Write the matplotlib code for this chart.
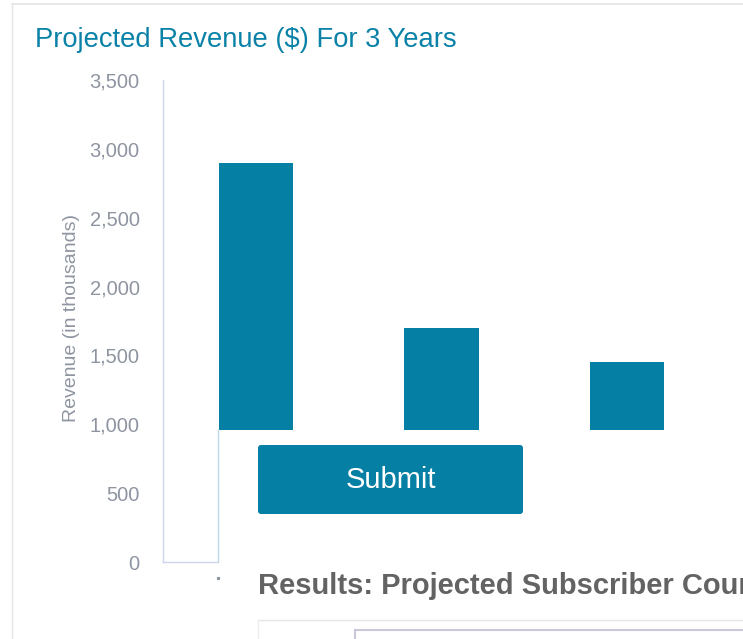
import matplotlib.pyplot as plt
from matplotlib.patches import Rectangle, FancyBboxPatch
from matplotlib.ticker import FuncFormatter

# data (revenue in thousands)
years = ["Year 1", "Year 2", "Year 3"]
revenue = [2900, 1700, 1450]
yticks = [0, 500, 1000, 1500, 2000, 2500, 3000, 3500]

W, H = 743, 639
teal = "#0580a4"
axis_col = "#ccd6eb"
label_col = "#8e95a1"

plt.rcParams['font.family'] = ['Liberation Sans', 'DejaVu Sans']

fig = plt.figure(figsize=(W / 100, H / 100), dpi=100)

# main chart axes, placed in pixel terms
x0, x1, ytop, ybot = 163.25, 719.75, 80, 562
ax = fig.add_axes([x0 / W, (H - ybot) / H, (x1 - x0) / W, (ybot - ytop) / H])
ax.bar(range(len(years)), revenue, width=0.40, color=teal, zorder=3)
ax.set_xlim(-0.5, len(years) - 0.5)
ax.set_ylim(0, 3500)
ax.set_yticks(yticks)
ax.yaxis.set_major_formatter(FuncFormatter(lambda v, p: f"{int(v):,}"))
ax.set_xticks(range(len(years)))
ax.set_xticklabels([])
ax.tick_params(axis='y', length=0, pad=17, labelsize=14.5, labelcolor=label_col)
ax.tick_params(axis='x', length=0)
for s in ['top', 'right']:
    ax.spines[s].set_visible(False)
for s in ['left', 'bottom']:
    ax.spines[s].set_color(axis_col)
    ax.spines[s].set_linewidth(1)

fig.text(72 / W, 1 - 318 / H, "Revenue (in thousands)", rotation=90,
         ha='center', va='center', fontsize=14, color=label_col)

fig.text(35 / W, 1 - 47 / H, "Projected Revenue ($) For 3 Years",
         ha='left', va='baseline', fontsize=19.7, color="#0a82a8")

# page overlay drawn in pixel coordinates on top of the chart
ov = fig.add_axes([0, 0, 1, 1], zorder=5)
ov.set_xlim(0, W)
ov.set_ylim(H, 0)
ov.axis('off')
ov.patch.set_alpha(0)

# card border
ov.plot([12, 12], [4, H], color="#e4e4e4", lw=1)
ov.plot([12, W], [4, 4], color="#e4e4e4", lw=1.2)

# white panel covering the lower part of the chart
ov.add_patch(Rectangle((218, 430), W - 218, H - 430, facecolor="white",
                       edgecolor="none", zorder=1))
ov.plot([218, 218], [430, 562], color="#b9dbe8", lw=1, zorder=2)
ov.plot([218], [578], marker='s', ms=1.3, color="#8e95a1", zorder=2)

ov.add_patch(FancyBboxPatch((258, 445), 265, 69,
                            boxstyle="round,pad=0,rounding_size=3",
                            facecolor=teal, edgecolor="none", zorder=3))
ov.text(390.5, 480, "Submit", ha='center', va='center', fontsize=21,
        color="white", zorder=4)

ov.text(258, 586, "Results: Projected Subscriber Count", ha='left',
        va='center', fontsize=21, fontweight='bold', color="#636363",
        zorder=4, clip_on=True)

ov.plot([258, W], [620, 620], color="#e6e6e6", lw=1, zorder=2)
ov.plot([258, 258], [620, H], color="#eeeeee", lw=1, zorder=2)
ov.plot([355, W], [630, 630], color="#c9c9d9", lw=1.5, zorder=2)
ov.plot([355, 355], [630, H], color="#c9c9d9", lw=1.5, zorder=2)

fig.savefig("out.png", dpi=100)
